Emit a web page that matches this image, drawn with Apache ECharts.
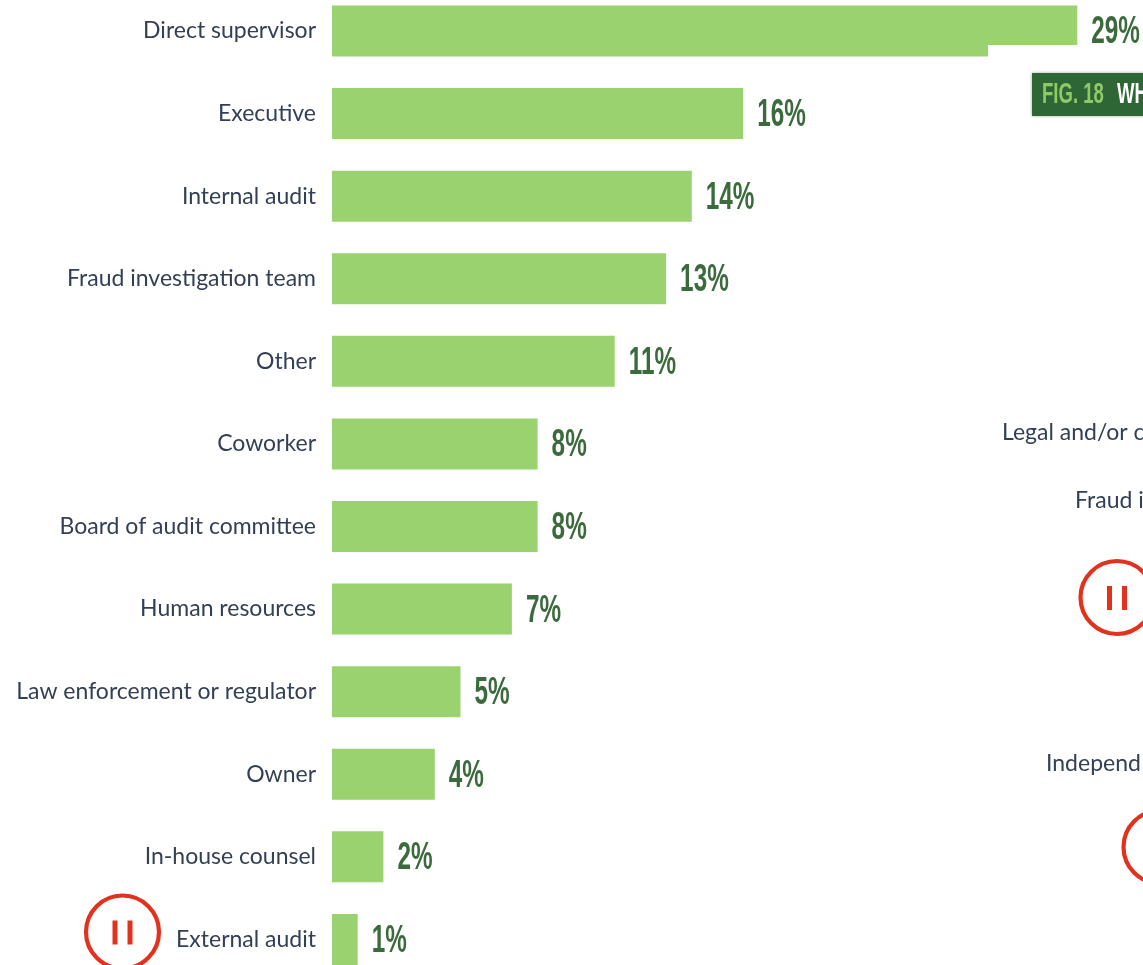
<!DOCTYPE html>
<html>
<head>
<meta charset="utf-8">
<style>html,body{margin:0;padding:0;background:#fff;overflow:hidden}#chart{width:1143px;height:965px}</style>
<script src="https://cdn.jsdelivr.net/npm/echarts@6/dist/echarts.min.js"></script>
</head>
<body>
<div id="chart"></div>
<script>
// Who the fraud was reported to, share of cases in percent
const categories = ['Direct supervisor','Executive','Internal audit','Fraud investigation team','Other','Coworker','Board of audit committee','Human resources','Law enforcement or regulator','Owner','In-house counsel','External audit'];
const shares = [29,16,14,13,11,8,8,7,5,4,2,1];

const BAR = '#9ad26f', VALUE = '#3b6b3c', TEXT = '#333f55', RED = '#e2321d', PANEL = '#2f6636';
const labelFont = 'Lato, "Noto Sans", sans-serif';
const valueFont = '"Liberation Sans", sans-serif';
const NARROW = 0.64;

// Pause badge: ring with two upright strokes
function badge(cx, cy) {
  return [
    {type:'circle', shape:{cx, cy, r:36.5}, style:{fill:'#fff', stroke:RED, lineWidth:4.2}, z:20},
    {type:'rect', shape:{x:cx-10, y:cy-11.5, width:5, height:24}, style:{fill:RED}, z:21},
    {type:'rect', shape:{x:cx+5, y:cy-11.5, width:5, height:24}, style:{fill:RED}, z:21}
  ];
}
function sideText(x, y, text) {
  return {type:'text', x, y, style:{text, fill:TEXT, font:'23px '+labelFont, textVerticalAlign:'middle'}, z:20};
}
function panelText(x, text, fill) {
  return {type:'text', x, y:95, scaleX:NARROW, style:{text, fill, font:'bold 29px '+valueFont, textVerticalAlign:'middle'}, z:12};
}

const chart = echarts.init(document.getElementById('chart'), null, {renderer:'canvas'});
chart.setOption({
  animation:false,
  backgroundColor:'#fff',
  grid:{left:332, top:-10.3, width:771, height:991, outerBoundsMode:'none'},
  xAxis:{type:'value', min:0, max:30, show:false},
  yAxis:{
    type:'category', inverse:true, data:categories,
    axisLine:{show:false}, axisTick:{show:false},
    axisLabel:{interval:0, margin:16, color:TEXT, fontFamily:labelFont, fontSize:23, padding:[5,0,0,0]}
  },
  series:[
    {type:'bar', data:shares, barWidth:51, itemStyle:{color:BAR}},
    {
      // condensed percentage tags beside each bar
      type:'custom', clip:false, z:3,
      data:shares.map((v, i) => [v, i]),
      encode:{x:0, y:1},
      renderItem(params, api) {
        const p = api.coord([api.value(0), api.value(1)]);
        return {
          type:'text', x:p[0] + 14, y:p[1] + 2, scaleX:NARROW,
          style:{text:api.value(0) + '%', fill:VALUE, font:'bold 38px '+valueFont, textAlign:'left', textVerticalAlign:'middle'}
        };
      }
    }
  ],
  graphic:{elements:[
    // panel from the next figure overlapping the top bar
    {type:'rect', shape:{x:988, y:45, width:155, height:28}, style:{fill:'#fff'}, z:10},
    {type:'rect', shape:{x:1032, y:73, width:120, height:43}, style:{fill:PANEL, shadowBlur:3, shadowColor:'rgba(0,0,0,0.35)'}, z:11},
    panelText(1042, 'FIG. 18', '#8fca66'),
    panelText(1117, 'WH', '#fff'),
    sideText(1002, 433, 'Legal and/or c'),
    sideText(1075, 501, 'Fraud i'),
    sideText(1046, 764, 'Independ'),
    ...badge(122.5, 932),
    ...badge(1117, 597.5),
    ...badge(1160, 847)
  ]}
});
</script>
</body>
</html>
